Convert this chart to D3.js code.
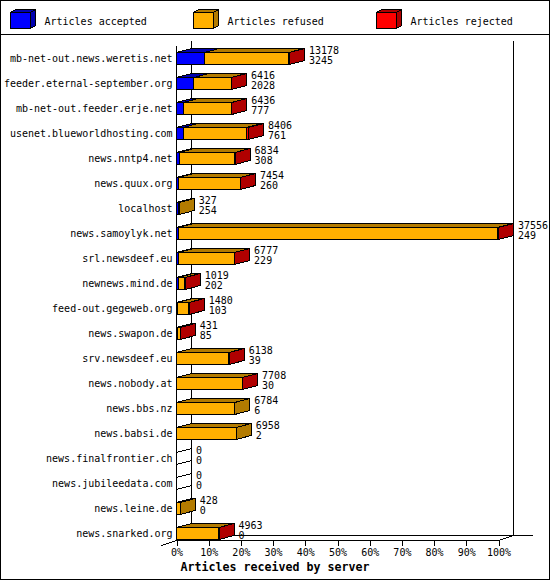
<!DOCTYPE html>
<html>
<head>
<meta charset="utf-8">
<script src="https://cdn.jsdelivr.net/npm/d3@7/dist/d3.min.js"></script>
<style>
  html, body { margin: 0; padding: 0; background: #fff; }
  svg { display: block; }
  text { font-family: "DejaVu Sans Mono", monospace; font-size: 10px; fill: #000; }
</style>
</head>
<body>
<svg id="chart" width="550" height="580"></svg>
<script>
// ---------------- data ----------------
const categories = [
  "mb-net-out.news.weretis.net", "feeder.eternal-september.org", "mb-net-out.feeder.erje.net",
  "usenet.blueworldhosting.com", "news.nntp4.net", "news.quux.org", "localhost",
  "news.samoylyk.net", "srl.newsdeef.eu", "newnews.mind.de", "feed-out.gegeweb.org",
  "news.swapon.de", "srv.newsdeef.eu", "news.nobody.at", "news.bbs.nz", "news.babsi.de",
  "news.finalfrontier.ch", "news.jubileedata.com", "news.leine.de", "news.snarked.org"
];
const accepted = [3245, 2028, 777, 761, 308, 260, 254, 249, 229, 202, 103, 85, 39, 30, 6, 2, 0, 0, 0, 0];
const refused  = [9853, 4348, 5619, 7395, 6496, 7164, 73, 37207, 6518, 777, 1337, 326, 6079, 7648, 6778, 6956, 0, 0, 428, 4943];
const rejected = [80, 40, 40, 250, 30, 30, 0, 100, 30, 40, 40, 20, 20, 30, 0, 0, 0, 0, 0, 20];
const seriesNames = ["Articles accepted", "Articles refused", "Articles rejected"];
const tickValues = [0, 10, 20, 30, 40, 50, 60, 70, 80, 90, 100];
const xTitle = "Articles received by server";

// ---------------- styles ----------------
const fronts = ["#0000ff", "#ffb000", "#ff0000"];
const darks  = ["#0000b0", "#b37b00", "#b00000"];

const svg = d3.select("#chart");
const series = [accepted, refused, rejected];
const totals = categories.map((c, i) => d3.sum(series, s => s[i]));

// frame
svg.append("rect").attr("x", 0.5).attr("y", 0.5).attr("width", 549).attr("height", 579)
  .attr("fill", "#fff").attr("stroke", "#000");
svg.append("line").attr("x1", 0).attr("x2", 550).attr("y1", 34.5).attr("y2", 34.5).attr("stroke", "#000");

// geometry
const DX = 15, DY = -4, ADY = -5;
const x = d3.scaleLinear().domain([0, d3.max(totals)]).range([176.5, 498.5]);
const pct = d3.scaleLinear().domain([0, 100]).range([176.5, 498.5]);
const y = d3.scalePoint().domain(categories).range([58.5, 533.5]);
const H = 12;

const g = svg.append("g").attr("shape-rendering", "crispEdges");

// back walls
const xb0 = pct(0) + DX, xb1 = pct(100) + DX;
const yTop = 45.5, yFloor = 540.5;
g.append("line").attr("x1", xb0).attr("x2", xb0).attr("y1", yTop + ADY).attr("y2", yFloor + ADY).attr("stroke", "#000");
g.append("line").attr("x1", xb1).attr("x2", xb1).attr("y1", yTop + ADY).attr("y2", yFloor + ADY).attr("stroke", "#000");
g.append("line").attr("x1", xb0).attr("x2", xb1 + 19).attr("y1", yFloor + ADY).attr("y2", yFloor + ADY).attr("stroke", "#000");

// 3D box helper
function box(parent, x0, x1, yt, yb, fill, dark) {
  const top = [[x0, yt], [x1, yt], [x1 + DX, yt + DY], [x0 + DX, yt + DY]];
  const side = [[x1, yt], [x1 + DX, yt + DY], [x1 + DX, yb + DY], [x1, yb]];
  parent.append("polygon").attr("points", top.join(" ")).attr("fill", dark).attr("stroke", "#000");
  parent.append("polygon").attr("points", side.join(" ")).attr("fill", dark).attr("stroke", "#000");
  parent.append("rect").attr("x", x0).attr("y", yt).attr("width", Math.max(0, x1 - x0)).attr("height", yb - yt)
    .attr("fill", fill).attr("stroke", "#000");
}

// bars
categories.forEach((c, i) => {
  const cy = y(c);
  const yt = cy - H / 2, yb = cy + H / 2;
  if (totals[i] === 0) {
    box(g, x(0), x(0), yt, yb, "none", "none");
  } else {
    let acc = 0;
    series.forEach((s, k) => {
      if (s[i] > 0) {
        box(g, x(acc), x(acc + s[i]), yt, yb, fronts[k], darks[k]);
        acc += s[i];
      }
    });
  }
  // category label
  svg.append("text").attr("x", 172.5).attr("y", cy + 3.6).attr("text-anchor", "end").text(c);
  // value labels
  const lx = x(totals[i]) + 19.5;
  svg.append("text").attr("x", lx).attr("y", cy - 4.5).text(totals[i]);
  svg.append("text").attr("x", lx).attr("y", cy + 5.5).text(accepted[i]);
});

// front axes
g.append("line").attr("x1", pct(0)).attr("x2", pct(0)).attr("y1", yTop).attr("y2", yFloor).attr("stroke", "#000");
g.append("line").attr("x1", pct(0)).attr("x2", pct(100)).attr("y1", yFloor).attr("y2", yFloor).attr("stroke", "#000");
g.append("line").attr("x1", pct(100)).attr("x2", xb1).attr("y1", yFloor).attr("y2", yFloor + ADY).attr("stroke", "#000");
g.append("line").attr("x1", pct(0) - DX).attr("x2", pct(0)).attr("y1", yFloor - ADY).attr("y2", yFloor).attr("stroke", "#000");

// x axis ticks
const axis = d3.axisBottom(pct).tickValues(tickValues).tickFormat(d => d + "%").tickSize(5).tickSizeOuter(0);
const ax = svg.append("g").attr("transform", `translate(0,${yFloor})`).call(axis);
ax.select(".domain").remove();
ax.selectAll(".tick line").attr("stroke", "#000").attr("shape-rendering", "crispEdges");
ax.selectAll(".tick text").attr("font-family", "DejaVu Sans Mono").attr("font-size", 10)
  .attr("fill", "#000").attr("y", 8).attr("dy", "0.71em");

// x title
svg.append("text").attr("x", 275).attr("y", 570.5).attr("text-anchor", "middle")
  .style("font-weight", "bold").style("font-size", "11.63px").text(xTitle);

// legend
const lg = svg.append("g").attr("shape-rendering", "crispEdges");
seriesNames.forEach((name, k) => {
  const bx = 10.5 + k * 183;
  const x0 = bx, x1 = bx + 20, yt = 12.5, yb = 28.5;
  const top = [[x0, yt], [x1, yt], [x1 + 5, yt - 3], [x0 + 5, yt - 3]];
  const side = [[x1, yt], [x1 + 5, yt - 3], [x1 + 5, yb - 3], [x1, yb]];
  lg.append("polygon").attr("points", top.join(" ")).attr("fill", darks[k]).attr("stroke", "#000");
  lg.append("polygon").attr("points", side.join(" ")).attr("fill", darks[k]).attr("stroke", "#000");
  lg.append("rect").attr("x", x0).attr("y", yt).attr("width", 20).attr("height", yb - yt)
    .attr("fill", fronts[k]).attr("stroke", "#000");
  svg.append("text").attr("x", bx + 34).attr("y", 24.5).text(name);
});
</script>
</body>
</html>
